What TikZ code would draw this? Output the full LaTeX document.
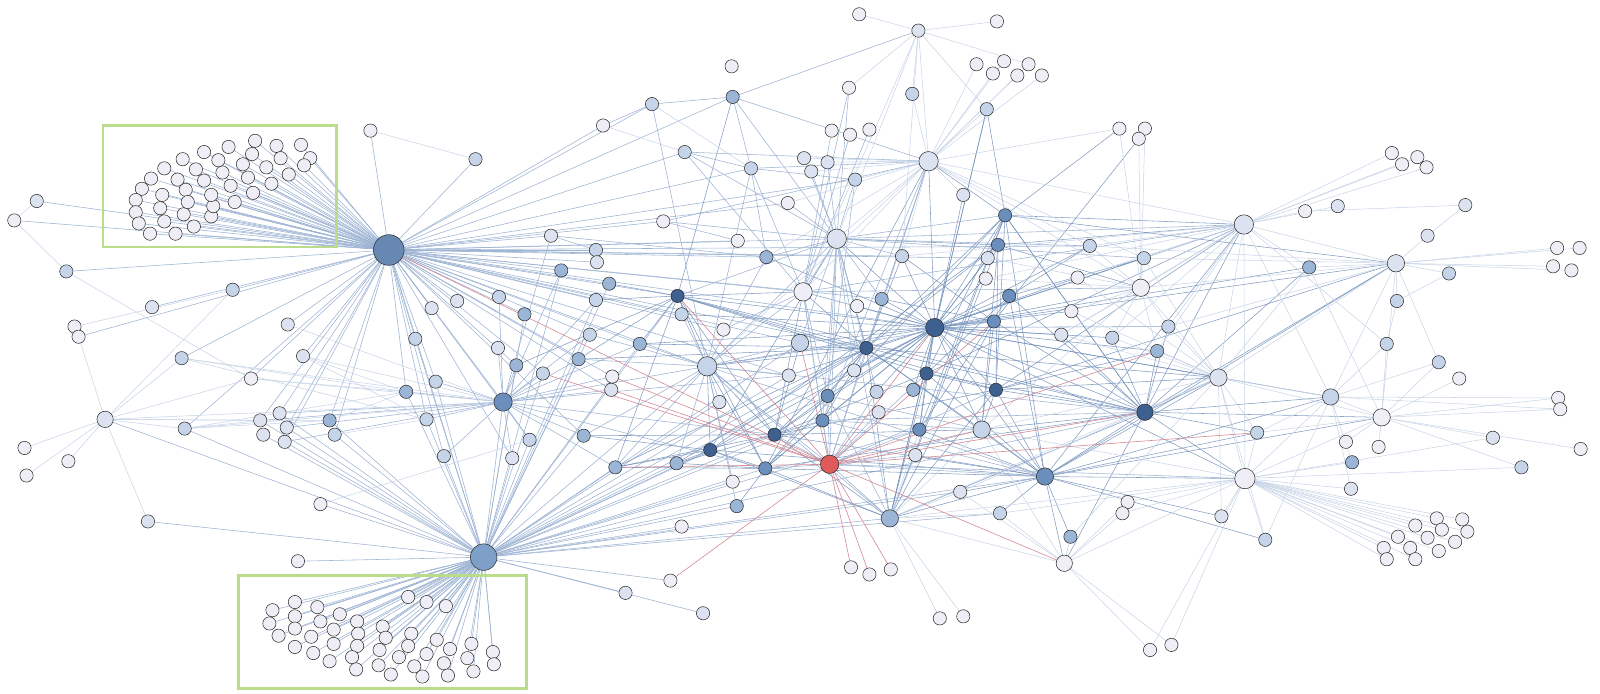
\documentclass[tikz,border=0pt]{standalone}
\usetikzlibrary{backgrounds}
\definecolor{cw}{HTML}{EFEDF5}
\definecolor{cp}{HTML}{DCE2F0}
\definecolor{cl}{HTML}{C5D4E8}
\definecolor{cm}{HTML}{9BB5D6}
\definecolor{cb}{HTML}{6B8FBC}
\definecolor{cd}{HTML}{3E6090}
\definecolor{cr}{HTML}{E05A5A}
\definecolor{cA}{HTML}{6688B3}
\definecolor{cB}{HTML}{7EA0C8}
\definecolor{eH}{HTML}{9DB3D3}
\definecolor{eD}{HTML}{6F8DB8}
\definecolor{eF}{HTML}{C6D3E6}
\definecolor{eR}{HTML}{D58A95}
\definecolor{gbox}{HTML}{BADD8B}
\tikzset{
  nd/.style={circle,draw=black!85,line width=0.5pt,inner sep=0pt,minimum size=13pt},
  eh/.style={draw=eH,line width=0.55pt},
  ed/.style={draw=eD,line width=0.55pt,draw opacity=0.85},
  ef/.style={draw=eF,line width=0.5pt},
  er/.style={draw=eR,line width=0.6pt},
  gb/.style={draw=gbox,line width=2.8pt}
}
\begin{document}
\begin{tikzpicture}[x=1pt,y=-1pt]
\useasboundingbox (0,0) rectangle (1568,680);
% clusters
\foreach \x/\y in {200/149,224/144,250/138,271/143,295/142,304/155,298/162,275/155,283/171,261/164,266/180,247/151,238/161,243/174,248/189,230/198,226/182,218/169,214/157,192/166,179/156,161/165,148/175,139/185,133/196,133/208,136/219,147/229,172/229,190/222,207/212,209/202,207/191,200/177,182/186,174/176,159/191,157/204,161/217,180/210,184/198}
  \node[nd,fill=cw] (n\x-\y) at (\x,\y) {};
\foreach \x/\y in {267/598,264/611,273/623,289/590,289/604,289/616,289/634,305/624,307/640,311/595,314/609,327/617,327/631,323/648,333/602,350/609,351/621,350/633,345/644,349/656,375/614,378/625,372/637,371/652,383/661,400/585,418/590,437/594,403/621,400/633,391/644,406/653,414/663,428/627,418/641,441/636,435/650,439/662,462/631,458/645,464/658,483/639,484/651}
  \node[nd,fill=cw] (n\x-\y) at (\x,\y) {};
% regular nodes
\foreach \x/\y/\c in {363/128/w,466/156/l,36/197/p,14/216/w,65/266/l,228/284/l,149/301/p,73/320/w,77/330/w,282/318/p,178/351/l,297/349/p,246/371/w,181/420/l,24/439/w,26/466/w,67/452/w,255/412/p,258/426/p,274/405/p,281/419/p,279/433/p,323/412/m,328/426/l,398/384/m,418/411/l,407/332/l,423/302/p,427/374/l,435/447/l,448/295/p,489/291/l,488/341/p,514/308/m,506/358/m,532/366/l,550/265/m,540/231/p,584/245/l,585/257/p,597/278/m,584/294/l,578/328/l,567/352/m,600/369/w,599/382/p,519/431/l,502/449/p,572/427/m,603/458/m,627/337/m,668/308/l,664/290/d,650/217/w,671/149/l,591/123/w,639/102/l,718/95/m,717/65/w,736/165/l,723/236/w,751/252/m,709/323/w,705/394/p,663/454/m,696/441/d,718/472/w,722/496/m,668/516/w,750/459/b,759/426/d,773/368/p,772/199/w,788/155/p,795/168/p,811/159/p,815/128/w,833/132/w,852/127/w,832/86/w,838/176/l,884/251/l,840/300/w,864/293/m,849/341/d,837/363/p,811/388/b,806/412/b,859/384/l,861/404/p,895/382/m,908/366/d,901/421/b,897/446/p,941/482/p,980/503/l,1049/526/m,1105/492/w,1100/503/w,1197/506/p,1240/529/l,1232/424/l,1134/344/m,1145/320/l,1090/331/l,1040/328/p,1050/305/w,1056/272/w,1068/241/l,1121/253/l,976/382/d,974/315/b,989/290/b,966/273/w,968/253/p,978/240/b,985/211/b,944/191/p,894/92/l,900/30/p,842/14/w,977/21/w,957/63/w,973/72/w,984/60/w,997/74/w,1008/63/w,1021/74/w,967/107/l,1097/126/w,1122/126/w,1116/136/w,1279/207/w,1311/202/p,1283/262/m,1369/295/l,1364/150/w,1374/161/w,1389/154/w,1398/164/w,1436/201/p,1399/231/p,1420/268/l,1526/243/w,1548/243/w,1522/261/w,1540/265/w,1359/337/l,1410/355/l,1430/371/w,1319/433/w,1351/438/w,1325/453/m,1324/479/p,1463/429/p,1491/458/l,1527/390/w,1529/401/w,1549/440/w,1408/508/w,1387/515/w,1433/509/w,1413/519/w,1438/521/w,1370/526/w,1399/527/w,1356/537/w,1382/537/w,1410/540/w,1426/531/w,1359/548/w,1387/548/w,1127/637/w,1148/632/w,921/606/w,944/604/w,834/556/w,852/563/w,873/558/w,657/569/w,689/601/p,613/581/p,292/550/w,314/494/w,145/511/p}
  \node[nd,fill=c\c] (n\x-\y) at (\x,\y) {};
% larger nodes
\foreach \x/\y/\c/\s in {103/411/p/16,693/359/l/19,784/336/l/17,787/286/w/18,820/234/p/19,813/455/r/18,916/321/d/18,962/421/l/17,872/508/m/17,1024/467/b/17,1043/552/w/16,1220/469/w/20,1194/370/p/17,1122/404/d/16,1118/282/w/17,910/158/p/19,1219/220/p/19,1368/258/p/17,1304/389/l/16,1354/409/w/17,493/394/b/18,381/245/A/30,474/546/B/26}
  \node[nd,fill=c\c,minimum size=\s pt] (n\x-\y) at (\x,\y) {};
% boxes
\draw[gb] (101,123) rectangle (330,242);
\draw[gb] (234,564) rectangle (516,675);
\begin{scope}[on background layer]
% hub A cluster
\foreach \a in {200-149,224-144,250-138,271-143,295-142,304-155,298-162,275-155,283-171,261-164,266-180,247-151,238-161,243-174,248-189,230-198,226-182,218-169,214-157,192-166,179-156,161-165,148-175,139-185,133-196,133-208,136-219,147-229,172-229,190-222,207-212,209-202,207-191,200-177,182-186,174-176,159-191,157-204,161-217,180-210,184-198}
  \draw[eh] (n\a) -- (n381-245);
\foreach \a in {36-197,14-216,65-266,363-128,466-156,591-123,639-102,718-95,671-149,736-165,650-217,540-231,584-245,585-257,550-265,597-278,584-294,578-328,664-290,668-308,627-337,514-308,489-291,448-295,423-302,407-332,398-384,418-411,427-374,435-447,493-394,506-358,532-366,567-352,693-359,751-252,820-234,787-286,784-336,916-321,838-176,772-199,884-251,474-546,323-412,328-426,282-318,228-284,149-301,77-330,178-351,181-420,246-371,297-349,274-405,281-419,279-433,255-412,1068-241,968-253,709-323,723-236,599-382,600-369,773-368,864-293,849-341,519-431,502-449,572-427}
  \draw[eh] (n\a) -- (n381-245);
% hub B
\foreach \a in {267-598,264-611,273-623,289-590,289-604,289-616,289-634,305-624,307-640,311-595,314-609,327-617,327-631,323-648,333-602,350-609,351-621,350-633,345-644,349-656,375-614,378-625,372-637,371-652,383-661,400-585,418-590,437-594,403-621,400-633,391-644,406-653,414-663,428-627,418-641,441-636,435-650,439-662,462-631,458-645,464-658,483-639,484-651}
  \draw[eh] (n\a) -- (n474-546);
\foreach \a in {145-511,292-550,314-494,103-411,181-420,255-412,258-426,274-405,281-419,279-433,323-412,328-426,398-384,418-411,435-447,407-332,427-374,493-394,502-449,519-431,572-427,603-458,663-454,696-441,750-459,759-426,806-412,811-388,773-368,693-359,722-496,668-516,718-472,872-508,613-581,657-569,689-601,901-421,916-321,849-341,664-290,627-337,567-352,532-366,578-328,584-294,506-358,1024-467,941-482,980-503,1122-404,962-421,597-278,514-308,705-394,784-336,550-265}
  \draw[eh] (n\a) -- (n474-546);
% dark nodes
\foreach \a/\b in {916-321/985-211,916-321/978-240,916-321/989-290,916-321/974-315,916-321/966-273,916-321/968-253,916-321/944-191,916-321/910-158,916-321/820-234,916-321/884-251,916-321/864-293,916-321/840-300,916-321/849-341,916-321/908-366,916-321/895-382,916-321/859-384,916-321/811-388,916-321/806-412,916-321/759-426,916-321/750-459,916-321/696-441,916-321/784-336,916-321/787-286,916-321/693-359,916-321/664-290,916-321/1040-328,916-321/1090-331,916-321/1145-320,916-321/1134-344,916-321/1122-404,916-321/1219-220,916-321/1118-282,916-321/1068-241,916-321/1121-253,916-321/976-382,916-321/962-421,916-321/901-421,916-321/872-508,916-321/1024-467,916-321/1194-370,916-321/1056-272,916-321/751-252,916-321/668-308,916-321/627-337,916-321/967-107,916-321/1368-258,916-321/1283-262,916-321/1050-305,916-321/837-363,916-321/773-368,916-321/1220-469,916-321/1304-389,
849-341/787-286,849-341/820-234,849-341/910-158,849-341/759-426,849-341/750-459,849-341/806-412,849-341/811-388,849-341/872-508,849-341/962-421,849-341/1024-467,849-341/693-359,849-341/664-290,849-341/627-337,849-341/1122-404,849-341/1194-370,849-341/884-251,849-341/985-211,849-341/978-240,849-341/603-458,849-341/663-454,849-341/567-352,
664-290/718-95,664-290/693-359,664-290/750-459,664-290/759-426,664-290/787-286,664-290/908-366,664-290/976-382,664-290/1122-404,664-290/584-294,664-290/597-278,664-290/567-352,664-290/627-337,664-290/506-358,664-290/603-458,
759-426/693-359,759-426/784-336,759-426/787-286,759-426/806-412,759-426/811-388,759-426/872-508,759-426/976-382,759-426/1024-467,759-426/962-421,759-426/603-458,759-426/663-454,759-426/572-427,759-426/908-366,
750-459/693-359,750-459/696-441,750-459/722-496,750-459/806-412,750-459/872-508,750-459/1024-467,750-459/1122-404,750-459/603-458,750-459/663-454,750-459/910-158,750-459/985-211,
696-441/693-359,696-441/663-454,696-441/603-458,696-441/572-427,696-441/1024-467,696-441/872-508,696-441/820-234,696-441/978-240,
908-366/976-382,908-366/1122-404,908-366/1024-467,908-366/872-508,908-366/901-421,908-366/985-211,908-366/989-290,908-366/1219-220,
976-382/1122-404,976-382/1024-467,976-382/985-211,976-382/978-240,976-382/1194-370,976-382/1219-220,976-382/872-508,976-382/962-421,976-382/1368-258,976-382/1134-344,
1122-404/1194-370,1122-404/1219-220,1122-404/1368-258,1122-404/1283-262,1122-404/1304-389,1122-404/1354-409,1122-404/1220-469,1122-404/1232-424,1122-404/1024-467,1122-404/1043-552,1122-404/962-421,1122-404/872-508,1122-404/1134-344,1122-404/1145-320,1122-404/1090-331,1122-404/1040-328,1122-404/974-315,1122-404/989-290,1122-404/985-211,
1024-467/1049-526,1024-467/1043-552,1024-467/1220-469,1024-467/1194-370,1024-467/1232-424,1024-467/1304-389,1024-467/1354-409,1024-467/1368-258,1024-467/1219-220,1024-467/962-421,1024-467/872-508,1024-467/941-482,1024-467/980-503,1024-467/1197-506,1024-467/1240-529,1024-467/901-421,1024-467/897-446,
985-211/910-158,985-211/1219-220,985-211/1368-258,985-211/967-107,985-211/1097-126,985-211/1122-404,985-211/1024-467,985-211/872-508,985-211/901-421,978-240/1219-220,978-240/1118-282,978-240/962-421,978-240/872-508,978-240/820-234,989-290/1121-253,989-290/1068-241,989-290/1024-467,989-290/901-421,974-315/1116-136,974-315/884-251,974-315/864-293,974-315/962-421,974-315/872-508,967-107/872-508}
  \draw[ed] (n\a) -- (n\b);
% medium hubs
\foreach \a/\b in {820-234/838-176,820-234/832-86,820-234/788-155,820-234/795-168,820-234/811-159,820-234/772-199,820-234/751-252,820-234/784-336,820-234/787-286,820-234/864-293,820-234/806-412,820-234/811-388,820-234/884-251,820-234/693-359,820-234/664-290,820-234/1068-241,820-234/1121-253,820-234/1219-220,820-234/985-211,820-234/859-384,820-234/872-508,820-234/837-363,
787-286/815-128,787-286/833-132,787-286/852-127,787-286/832-86,787-286/806-412,787-286/693-359,787-286/709-323,787-286/1219-220,787-286/1118-282,
693-359/639-102,693-359/668-308,693-359/627-337,693-359/567-352,693-359/578-328,693-359/705-394,693-359/663-454,693-359/603-458,693-359/572-427,693-359/784-336,693-359/773-368,693-359/722-496,693-359/718-472,693-359/872-508,693-359/1024-467,693-359/1122-404,693-359/974-315,693-359/751-252,
493-394/398-384,493-394/418-411,493-394/427-374,493-394/435-447,493-394/506-358,493-394/532-366,493-394/519-431,493-394/502-449,493-394/572-427,493-394/603-458,493-394/567-352,493-394/578-328,493-394/627-337,493-394/584-294,493-394/550-265,493-394/540-231,493-394/599-382,493-394/600-369,493-394/693-359,493-394/488-341,493-394/489-291,493-394/255-412,493-394/274-405,493-394/281-419,493-394/279-433,493-394/773-368,493-394/750-459,493-394/759-426,
813-455/759-426,813-455/806-412,813-455/811-388,813-455/849-341,813-455/750-459,813-455/872-508,813-455/1024-467,813-455/901-421,813-455/897-446,813-455/908-366,813-455/693-359,813-455/787-286,813-455/820-234,813-455/910-158,813-455/976-382,813-455/1220-469,813-455/861-404,813-455/859-384,
718-95/900-30,718-95/910-158,718-95/736-165,718-95/820-234,718-95/639-102,639-102/591-123,671-149/910-158,671-149/736-165,671-149/820-234,671-149/787-286,736-165/910-158,736-165/838-176,736-165/751-252,736-165/787-286,736-165/693-359,650-217/723-236,650-217/820-234,650-217/910-158,540-231/584-245,540-231/751-252,
811-388/787-286,811-388/838-176,811-388/872-508,811-388/962-421,806-412/1024-467,806-412/1122-404,806-412/910-158,806-412/962-421}
  \draw[eh] (n\a) -- (n\b);
% faint
\foreach \a/\b in {910-158/900-30,910-158/894-92,910-158/967-107,910-158/957-63,910-158/973-72,910-158/984-60,910-158/997-74,910-158/1008-63,910-158/1021-74,910-158/944-191,910-158/838-176,910-158/811-159,910-158/795-168,910-158/788-155,910-158/772-199,910-158/884-251,910-158/1219-220,910-158/1068-241,910-158/693-359,910-158/751-252,910-158/787-286,910-158/820-234,910-158/1097-126,910-158/1121-253,910-158/1118-282,
900-30/842-14,900-30/977-21,900-30/832-86,900-30/894-92,900-30/820-234,900-30/884-251,900-30/787-286,900-30/967-107,900-30/1008-63,
1219-220/1279-207,1219-220/1311-202,1219-220/1283-262,1219-220/1368-258,1219-220/1118-282,1219-220/1121-253,1219-220/1068-241,1219-220/1145-320,1219-220/1134-344,1219-220/1194-370,1219-220/1090-331,1219-220/1040-328,1219-220/1359-337,1219-220/1304-389,1219-220/1220-469,1219-220/1056-272,1219-220/966-273,1219-220/884-251,1219-220/1364-150,1219-220/1374-161,1219-220/1389-154,1219-220/1398-164,1279-207/1436-201,1399-231/1436-201,1420-268/1369-295,1369-295/1359-337,1359-337/1354-409,1283-262/1354-409,1304-389/1527-390,1304-389/1529-401,
1368-258/1420-268,1368-258/1399-231,1368-258/1526-243,1368-258/1548-243,1368-258/1522-261,1368-258/1540-265,1368-258/1369-295,1368-258/1304-389,1368-258/1194-370,1368-258/1118-282,1368-258/1121-253,1368-258/1283-262,1368-258/1354-409,1368-258/1068-241,1368-258/1145-320,1368-258/1410-355,
1220-469/1408-508,1220-469/1387-515,1220-469/1433-509,1220-469/1413-519,1220-469/1438-521,1220-469/1370-526,1220-469/1399-527,1220-469/1356-537,1220-469/1382-537,1220-469/1410-540,1220-469/1426-531,1220-469/1359-548,1220-469/1387-548,1220-469/1324-479,1220-469/1325-453,1220-469/1491-458,1220-469/1232-424,1220-469/1304-389,1220-469/1354-409,1220-469/1194-370,1220-469/1043-552,1220-469/1240-529,1220-469/1197-506,1220-469/962-421,1220-469/980-503,1220-469/1127-637,1220-469/1148-632,1220-469/1105-492,1220-469/1100-503,1220-469/1463-429,
1354-409/1527-390,1354-409/1529-401,1354-409/1463-429,1354-409/1549-440,1354-409/1319-433,1354-409/1351-438,1354-409/1304-389,1354-409/1194-370,1354-409/1410-355,1354-409/1430-371,1354-409/1491-458,1354-409/1232-424,
1304-389/1359-337,1304-389/1410-355,1304-389/1325-453,1304-389/1324-479,1304-389/1194-370,1304-389/1232-424,1304-389/1240-529,
1194-370/1134-344,1194-370/1145-320,1194-370/1090-331,1194-370/1040-328,1194-370/1050-305,1194-370/1056-272,1194-370/1118-282,1194-370/1121-253,1194-370/1232-424,1194-370/1240-529,1194-370/1197-506,1194-370/1283-262,1194-370/1049-526,1194-370/962-421,1194-370/941-482,
1118-282/1097-126,1118-282/1122-126,1118-282/1116-136,1118-282/1068-241,1118-282/1121-253,1118-282/1145-320,1118-282/1134-344,1118-282/1090-331,1118-282/966-273,1118-282/968-253,1118-282/1050-305,1118-282/1040-328,1118-282/962-421,
1043-552/1127-637,1043-552/1148-632,1043-552/1105-492,1043-552/1100-503,1043-552/1049-526,1043-552/962-421,1043-552/941-482,1043-552/872-508,1043-552/980-503,
872-508/921-606,872-508/944-604,872-508/962-421,872-508/941-482,872-508/980-503,872-508/901-421,872-508/897-446,872-508/1220-469,872-508/1194-370,
103-411/24-439,103-411/26-466,103-411/67-452,103-411/77-330,103-411/145-511,103-411/181-420,103-411/246-371,103-411/323-412,103-411/255-412,103-411/228-284,103-411/178-351,103-411/493-394,
36-197/14-216,14-216/65-266,65-266/246-371,246-371/493-394,73-320/228-284,
181-420/323-412,181-420/493-394,181-420/398-384,181-420/255-412,178-351/398-384,178-351/493-394,178-351/418-411,246-371/398-384,297-349/493-394,297-349/418-411,297-349/398-384,282-318/493-394,314-494/519-431,323-412/398-384,328-426/418-411,363-128/466-156,591-123/671-149,639-102/736-165}
  \draw[ef] (n\a) -- (n\b);
% red
\foreach \a in {381-245,600-369,599-382,603-458,784-336,664-290,916-321,834-556,852-563,873-558,1043-552,1122-404,1134-344,1232-424,962-421,657-569,974-315,532-366}
  \draw[er] (n\a) -- (n813-455);
\end{scope}
\end{tikzpicture}
\end{document}
